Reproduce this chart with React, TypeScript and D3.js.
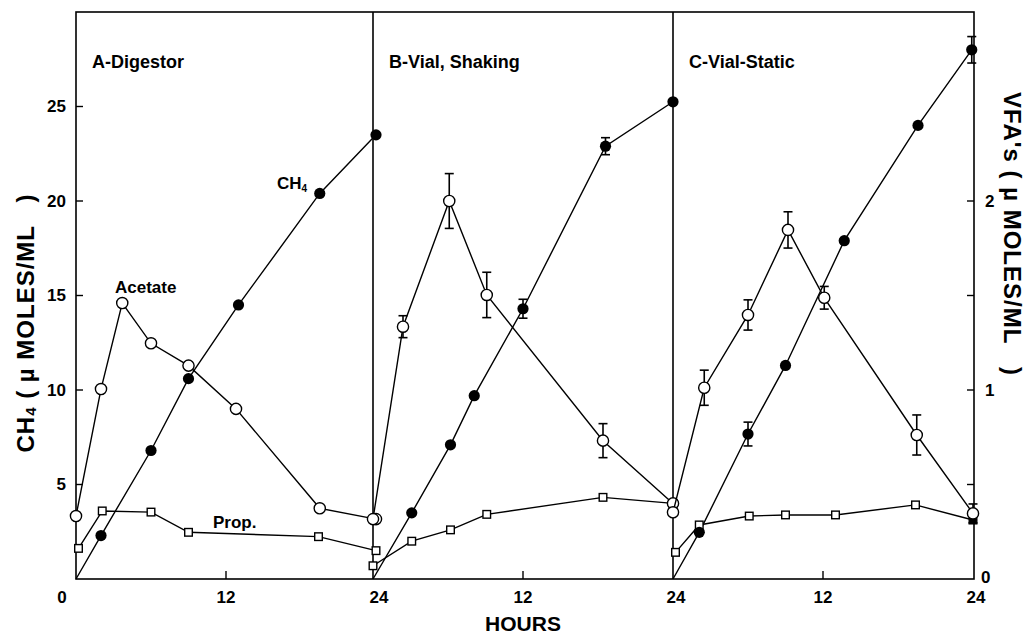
import React from "react";
import * as d3 from "d3";

// ---- data ----
const panelNames = ["A-Digestor", "B-Vial, Shaking", "C-Vial-Static"];

// CH4 (µmoles/ml) - left axis
const ch4HoursA = [0, 2, 6, 9, 13, 19.5, 24];
const ch4ValuesA = [0, 2.3, 6.8, 10.6, 14.5, 20.4, 23.5];
const ch4ErrA = [0, 0, 0, 0, 0, 0, 0];
const ch4HoursB = [0, 3.1, 6.2, 8.1, 12, 18.6, 24];
const ch4ValuesB = [0, 3.5, 7.1, 9.7, 14.3, 22.9, 25.25];
const ch4ErrB = [0, 0, 0, 0, 0.5, 0.45, 0];
const ch4HoursC = [0, 2.1, 6, 9, 13.7, 19.6, 23.9];
const ch4ValuesC = [0, 2.47, 7.67, 11.3, 17.9, 24.0, 28.0];
const ch4ErrC = [0, 0, 0.63, 0, 0, 0, 0.7];

// Acetate (VFA, µmoles/ml) - right axis
const acHoursA = [0, 2, 3.7, 6, 9, 12.8, 19.5, 24];
const acValuesA = [0.333, 1.005, 1.46, 1.247, 1.129, 0.9, 0.374, 0.317];
const acErrA = [0, 0, 0, 0, 0, 0, 0, 0];
const acHoursB = [0, 2.4, 6.1, 9.1, 18.4, 24];
const acValuesB = [0.317, 1.335, 2.0, 1.503, 0.732, 0.4];
const acErrB = [0, 0.058, 0.145, 0.12, 0.09, 0];
const acHoursC = [0, 2.5, 6, 9.2, 12.1, 19.5, 24];
const acValuesC = [0.353, 1.012, 1.397, 1.847, 1.488, 0.762, 0.347];
const acErrC = [0, 0.093, 0.08, 0.096, 0.06, 0.106, 0.05];

// Propionate (VFA) - right axis
const prHoursA = [0.2, 2.1, 6, 9, 19.4, 24];
const prValuesA = [0.162, 0.36, 0.354, 0.247, 0.224, 0.15];
const prHoursB = [0, 3.1, 6.2, 9.1, 18.4, 24];
const prValuesB = [0.07, 0.2, 0.26, 0.342, 0.432, 0.4];
const prHoursC = [0.2, 2.1, 6.1, 9, 13, 19.4, 24];
const prValuesC = [0.141, 0.286, 0.333, 0.339, 0.339, 0.392, 0.312];

const ch4Ticks = [5, 10, 15, 20, 25];
const vfaTicks = [0.5, 1, 1.5, 2];
const vfaLabels = [0, 1, 2];
const hourTickLabels = ["0", "12", "24"];

// ---- layout ----
const W = 1031;
const H = 634;
const top = 12;
const bottom = 579;
const panelLeft = [76, 373, 673];
const panelW = 300;
const right = 974;
const FONT = "'Liberation Sans', Arial, Helvetica, sans-serif";

const yCh4 = d3.scaleLinear().domain([0, 30]).range([bottom, top]);
const yVfa = d3.scaleLinear().domain([0, 3]).range([bottom, top]);

type Pt = { h: number; v: number; e: number };
const zip = (hs: number[], vs: number[], es?: number[]): Pt[] =>
  hs.map((h, i) => ({ h, v: vs[i], e: es ? es[i] : 0 }));

const ch4Data = [
  zip(ch4HoursA, ch4ValuesA, ch4ErrA),
  zip(ch4HoursB, ch4ValuesB, ch4ErrB),
  zip(ch4HoursC, ch4ValuesC, ch4ErrC),
];
const acData = [
  zip(acHoursA, acValuesA, acErrA),
  zip(acHoursB, acValuesB, acErrB),
  zip(acHoursC, acValuesC, acErrC),
];
const prData = [zip(prHoursA, prValuesA), zip(prHoursB, prValuesB), zip(prHoursC, prValuesC)];

function Panel({ idx }: { idx: number }) {
  const x = d3
    .scaleLinear()
    .domain([0, 24])
    .range([panelLeft[idx], panelLeft[idx] + panelW]);
  const lineCh4 = d3
    .line<Pt>()
    .x((d) => x(d.h))
    .y((d) => yCh4(d.v));
  const lineVfa = d3
    .line<Pt>()
    .x((d) => x(d.h))
    .y((d) => yVfa(d.v));
  const cap = 4.5;
  return (
    <g>
      <path d={lineCh4(ch4Data[idx]) || ""} fill="none" stroke="#000" strokeWidth={1.4} />
      <path d={lineVfa(acData[idx]) || ""} fill="none" stroke="#000" strokeWidth={1.4} />
      <path d={lineVfa(prData[idx]) || ""} fill="none" stroke="#000" strokeWidth={1.4} />
      {/* error bars */}
      {ch4Data[idx]
        .filter((d) => d.e > 0)
        .map((d, i) => (
          <g key={"ce" + i} stroke="#000" strokeWidth={1.6}>
            <line x1={x(d.h)} x2={x(d.h)} y1={yCh4(d.v - d.e)} y2={yCh4(d.v + d.e)} />
            <line x1={x(d.h) - cap} x2={x(d.h) + cap} y1={yCh4(d.v - d.e)} y2={yCh4(d.v - d.e)} />
            <line x1={x(d.h) - cap} x2={x(d.h) + cap} y1={yCh4(d.v + d.e)} y2={yCh4(d.v + d.e)} />
          </g>
        ))}
      {acData[idx]
        .filter((d) => d.e > 0)
        .map((d, i) => (
          <g key={"ae" + i} stroke="#000" strokeWidth={1.6}>
            <line x1={x(d.h)} x2={x(d.h)} y1={yVfa(d.v - d.e)} y2={yVfa(d.v + d.e)} />
            <line x1={x(d.h) - cap} x2={x(d.h) + cap} y1={yVfa(d.v - d.e)} y2={yVfa(d.v - d.e)} />
            <line x1={x(d.h) - cap} x2={x(d.h) + cap} y1={yVfa(d.v + d.e)} y2={yVfa(d.v + d.e)} />
          </g>
        ))}
      {/* markers */}
      {prData[idx].map((d, i) => {
        const last = idx === 2 && i === prData[idx].length - 1;
        return (
          <rect
            key={"p" + i}
            x={x(d.h) - 3.8}
            y={yVfa(d.v) - 3.8}
            width={7.6}
            height={7.6}
            fill={last ? "#000" : "#fff"}
            stroke="#000"
            strokeWidth={1.4}
          />
        );
      })}
      {acData[idx].map((d, i) => (
        <circle key={"a" + i} cx={x(d.h)} cy={yVfa(d.v)} r={5.6} fill="#fff" stroke="#000" strokeWidth={1.4} />
      ))}
      {ch4Data[idx]
        .filter((d) => d.v > 0)
        .map((d, i) => (
          <circle key={"c" + i} cx={x(d.h)} cy={yCh4(d.v)} r={5.6} fill="#000" />
        ))}
      {/* hour tick at 12 */}
      <line x1={x(12)} x2={x(12)} y1={bottom} y2={bottom - 8} stroke="#000" strokeWidth={1.4} />
      {/* hour labels */}
      {hourTickLabels.map((t, i) =>
        idx > 0 && i === 0 ? null : (
          <text
            key={"hl" + i}
            x={x(+t) + (idx === 0 && i === 0 ? -14 : i === 2 ? 3 : 0)}
            y={603}
            textAnchor="middle"
            fontSize={17}
            fontWeight="bold"
            fontFamily={FONT}
          >
            {t}
          </text>
        )
      )}
      <text x={panelLeft[idx] + 16} y={68} fontSize={18} fontWeight="bold" fontFamily={FONT}>
        {panelNames[idx]}
      </text>
    </g>
  );
}

export default function App() {
  return (
    <svg
      width={W}
      height={H}
      style={{ position: "absolute", left: 0, top: 0, background: "#fff" }}
    >
      <rect x={0} y={0} width={W} height={H} fill="#fff" />
      {/* frame */}
      <rect x={76} y={top} width={right - 76} height={bottom - top} fill="none" stroke="#000" strokeWidth={1.6} />
      {panelLeft.slice(1).map((px, i) => (
        <line key={i} x1={px} x2={px} y1={top} y2={bottom} stroke="#000" strokeWidth={1.6} />
      ))}
      {/* left ticks */}
      {ch4Ticks.map((t) => (
        <g key={"lt" + t}>
          <line x1={76} x2={83} y1={yCh4(t)} y2={yCh4(t)} stroke="#000" strokeWidth={1.4} />
          <text
            x={66}
            y={yCh4(t)}
            dy="0.35em"
            textAnchor="end"
            fontSize={17}
            fontWeight="bold"
            fontFamily={FONT}
          >
            {t}
          </text>
        </g>
      ))}
      {/* right ticks */}
      {vfaTicks.map((t) => (
        <line key={"rt" + t} x1={right} x2={right - 7} y1={yVfa(t)} y2={yVfa(t)} stroke="#000" strokeWidth={1.4} />
      ))}
      {vfaLabels.map((t) => (
        <text
          key={"rl" + t}
          x={t === 0 ? 981 : 985}
          y={yVfa(t) - (t === 0 ? 2 : 0)}
          dy="0.35em"
          fontSize={17}
          fontWeight="bold"
          fontFamily={FONT}
        >
          {t}
        </text>
      ))}
      {panelNames.map((_, i) => (
        <Panel key={i} idx={i} />
      ))}
      {/* annotations */}
      <text x={277} y={189} fontSize={17} fontWeight="bold" fontFamily={FONT}>
        CH
        <tspan fontSize={10} dy={3}>4</tspan>
      </text>
      <text x={115} y={293} fontSize={17} fontWeight="bold" fontFamily={FONT}>
        Acetate
      </text>
      <text x={213} y={528} fontSize={17} fontWeight="bold" fontFamily={FONT}>
        Prop.
      </text>
      {/* axis titles */}
      <text x={523} y={631} textAnchor="middle" fontSize={21} fontWeight="bold" fontFamily={FONT}>
        HOURS
      </text>
      <text
        transform="translate(34,323) rotate(-90)"
        textAnchor="middle"
        fontSize={24}
        letterSpacing={1}
        fontWeight="bold"
        fontFamily={FONT}
        style={{ whiteSpace: "pre" }}
      >
        CH<tspan fontSize={15} dy={2}>4</tspan>
        <tspan dy={-2}>{" ( \u00b5 MOLES/ML   )"}</tspan>
      </text>
      <text
        transform="translate(1004,234) rotate(90)"
        textAnchor="middle"
        fontSize={24}
        letterSpacing={1}
        fontWeight="bold"
        fontFamily={FONT}
        style={{ whiteSpace: "pre" }}
      >
        {"VFA's ( \u00b5 MOLES/ML   )"}
      </text>
    </svg>
  );
}
